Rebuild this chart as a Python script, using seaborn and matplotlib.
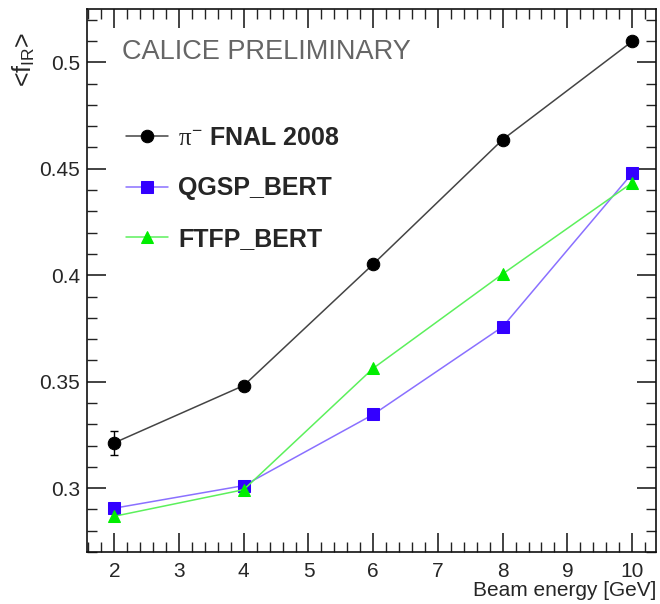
import numpy as np
import pandas as pd
import matplotlib
matplotlib.use("Agg")
import matplotlib.pyplot as plt
from matplotlib.ticker import MultipleLocator
import seaborn as sns

# Данные
energy = [2, 4, 6, 8, 10]
fnal_2008 = [0.3213, 0.3482, 0.4052, 0.4637, 0.5098]
fnal_err = [0.0055, 0.0012, 0.0012, 0.0012, 0.0012]
qgsp_bert = [0.2906, 0.3012, 0.3346, 0.3758, 0.4478]
ftfp_bert = [0.2868, 0.2993, 0.3563, 0.4006, 0.4434]

sns.set_style("ticks")
plt.rcParams['font.family'] = ['Liberation Sans', 'DejaVu Sans']
plt.rcParams['mathtext.fontset'] = 'custom'
plt.rcParams['mathtext.rm'] = 'Liberation Sans'
plt.rcParams['mathtext.it'] = 'Liberation Serif'

fig = plt.figure(figsize=(6.6, 6.04), dpi=100)
ax = fig.add_axes([0.132, 0.086, 0.862, 0.899])

blue = '#3300ff'
green = '#00ee00'

sns.lineplot(x=energy, y=qgsp_bert, ax=ax, color='#8a70ff', lw=1.1,
             marker='s', markersize=8, markerfacecolor=blue,
             markeredgecolor=blue, label='QGSP_BERT')
sns.lineplot(x=energy, y=ftfp_bert, ax=ax, color='#5cf05c', lw=1.1,
             marker='^', markersize=8.5, markerfacecolor=green,
             markeredgecolor=green, label='FTFP_BERT')
ax.errorbar(energy, fnal_2008, yerr=fnal_err, fmt='none', ecolor='black',
            elinewidth=1, capsize=3, zorder=4)
sns.lineplot(x=energy, y=fnal_2008, ax=ax, color='#444444', lw=1.1,
             marker='o', markersize=9, markerfacecolor='black',
             markeredgecolor='black', label=r'$\pi^{-}$ FNAL 2008', zorder=5)

ax.set_xlim(1.58, 10.37)
ax.set_ylim(0.27, 0.525)

ax.xaxis.set_major_locator(MultipleLocator(1))
ax.xaxis.set_minor_locator(MultipleLocator(0.2))
ax.yaxis.set_major_locator(MultipleLocator(0.05))
ax.yaxis.set_minor_locator(MultipleLocator(0.01))
ax.set_yticks([0.3, 0.35, 0.4, 0.45, 0.5])
ax.set_yticklabels(['0.3', '0.35', '0.4', '0.45', '0.5'])
ax.tick_params(which='both', direction='in', top=True, right=True,
               labelsize=15, color='#222222')
ax.tick_params(which='major', length=14, width=1.2)
ax.tick_params(which='minor', length=7, width=1)
ax.tick_params(axis='x', which='major', pad=7)
ax.tick_params(axis='y', which='major', pad=5)
for s in ax.spines.values():
    s.set_linewidth(1.2)
    s.set_color('#111111')

ax.set_xlabel('Beam energy [GeV]', fontsize=15, loc='right', labelpad=0)
ax.set_ylabel(r'<f$_{\mathrm{IR}}$>', fontsize=18, loc='top')
ax.yaxis.set_label_coords(-0.088, 0.958)

ax.text(0.062, 0.920, 'CALICE PRELIMINARY', transform=ax.transAxes,
        fontsize=19.5, color='#666666', va='center')

h, l = ax.get_legend_handles_labels()
order = [2, 0, 1]
leg = ax.legend([h[i] for i in order], [l[i] for i in order],
                loc='upper left', bbox_to_anchor=(0.028, 0.826), frameon=False,
                prop={'size': 18, 'weight': 'bold'}, handlelength=1.7,
                handletextpad=0.4, labelspacing=1.05)

fig.savefig('out.png', dpi=100)
